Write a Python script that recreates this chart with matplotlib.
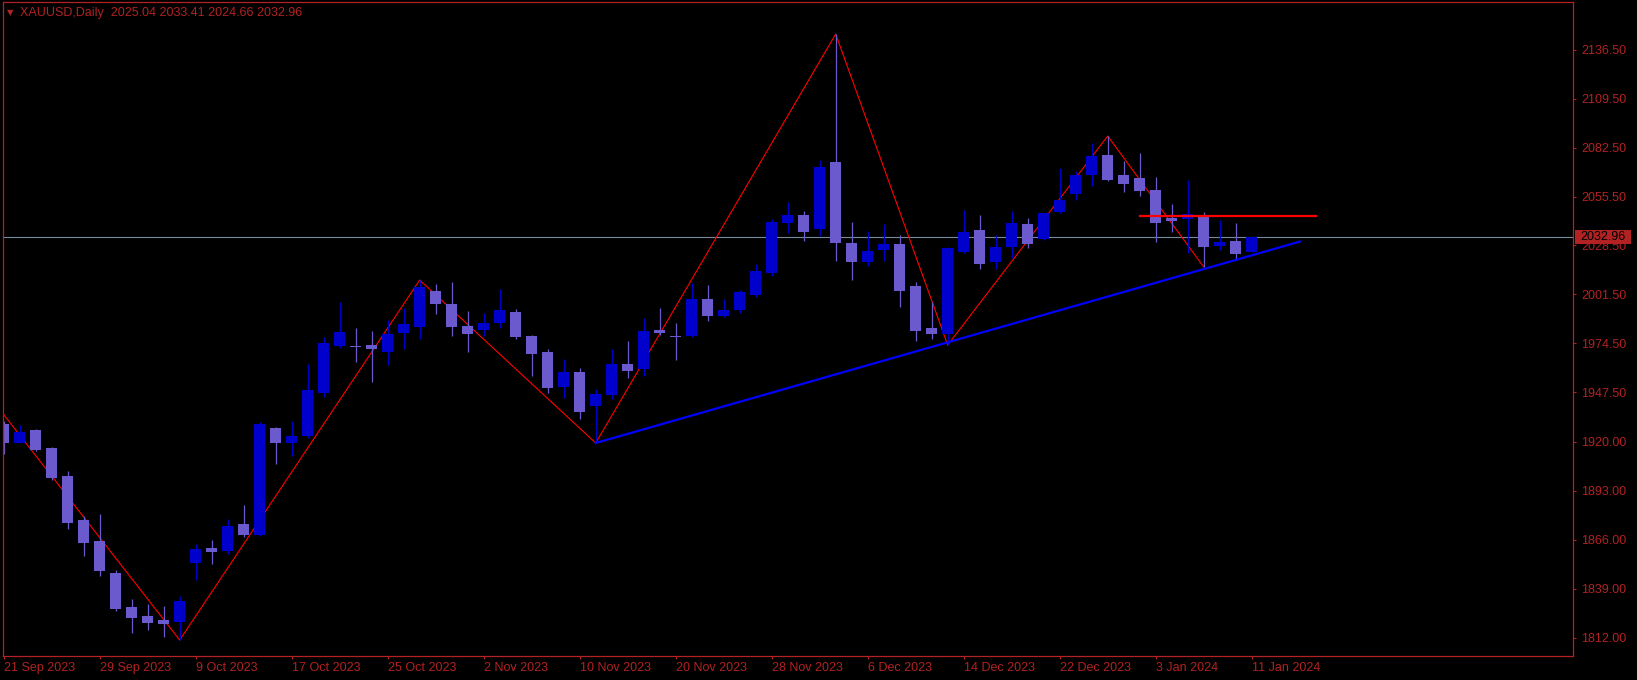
import matplotlib
matplotlib.use("Agg")
import matplotlib.pyplot as plt
import matplotlib.transforms as mtransforms
from matplotlib.patches import Rectangle
import numpy as np

plt.rcParams['font.family'] = ['Liberation Sans', 'DejaVu Sans']

# XAUUSD daily bars, 21 Sep 2023 .. 11 Jan 2024
opens = [1929.9, 1919.4, 1926.6, 1916.6, 1901.2, 1876.9, 1865.3, 1847.6, 1828.8, 1823.9,
         1821.7, 1820.6, 1853.1, 1861.4, 1859.8, 1874.7, 1868.6, 1927.7, 1919.4, 1923.3,
         1947.0, 1973.0, 1973.0, 1973.5, 1969.6, 1980.1, 1983.5, 2003.3, 1996.2, 1984.0,
         1981.8, 1985.7, 1991.7, 1978.5, 1969.6, 1950.3, 1958.6, 1939.8, 1945.9, 1963.0,
         1960.3, 1981.8, 1978.3, 1978.5, 1999.0, 1989.5, 1992.8, 2001.1, 2013.3, 2040.9,
         2045.3, 2037.6, 2074.6, 2029.8, 2019.3, 2026.0, 2029.3, 2006.1, 1982.9, 1979.6,
         2024.9, 2037.0, 2019.3, 2027.6, 2040.3, 2032.0, 2047.0, 2056.9, 2067.4, 2078.4,
         2067.4, 2065.7, 2059.1, 2043.6, 2043.1, 2044.7, 2028.2, 2030.9, 2025.04]
highs = [1931.5, 1929.3, 1927.1, 1917.2, 1904.0, 1879.1, 1880.2, 1849.3, 1833.3, 1830.5,
         1829.4, 1834.9, 1863.6, 1865.8, 1877.4, 1885.2, 1931.0, 1928.0, 1931.6, 1963.0,
         1977.9, 1997.3, 1982.9, 1981.2, 1987.3, 1994.0, 2009.4, 2007.2, 2008.3, 1992.3,
         1991.2, 2004.5, 1993.4, 1979.0, 1971.3, 1965.8, 1960.8, 1949.2, 1971.3, 1975.7,
         1988.4, 1994.0, 1985.7, 2007.8, 2006.7, 1999.0, 2003.9, 2018.2, 2043.1, 2052.5,
         2047.5, 2075.7, 2145.2, 2041.4, 2036.5, 2040.3, 2034.3, 2008.3, 1997.3, 2027.6,
         2048.1, 2045.3, 2034.3, 2047.5, 2043.6, 2046.6, 2071.3, 2069.6, 2085.1, 2088.9,
         2075.1, 2079.5, 2066.3, 2051.4, 2064.6, 2047.0, 2042.5, 2040.9, 2033.41]
lows = [1913.3, 1919.2, 1915.0, 1899.0, 1872.0, 1857.0, 1846.0, 1826.6, 1814.5, 1816.1,
        1812.3, 1810.6, 1843.7, 1852.6, 1858.1, 1867.5, 1868.0, 1907.8, 1912.2, 1922.0,
        1945.0, 1971.9, 1964.1, 1953.1, 1962.5, 1971.3, 1976.8, 1990.6, 1978.5, 1969.6,
        1978.5, 1982.9, 1976.8, 1956.4, 1947.0, 1944.0, 1932.7, 1919.4, 1943.7, 1955.3,
        1956.4, 1979.0, 1965.2, 1977.9, 1986.8, 1989.0, 1991.2, 2000.0, 2011.6, 2035.4,
        2030.9, 2033.7, 2019.9, 2009.4, 2017.1, 2019.9, 1994.5, 1975.7, 1976.8, 1973.5,
        2024.3, 2015.5, 2015.5, 2021.6, 2027.1, 2031.5, 2046.5, 2053.6, 2061.3, 2064.0,
        2058.0, 2055.8, 2030.4, 2035.9, 2024.3, 2016.6, 2026.0, 2020.4, 2024.66]
closes = [1919.6, 1925.5, 1915.5, 1900.1, 1875.2, 1864.2, 1848.7, 1827.7, 1822.8, 1820.0,
          1819.5, 1832.2, 1860.9, 1859.2, 1873.6, 1868.6, 1929.9, 1919.4, 1923.3, 1948.7,
          1974.6, 1980.7, 1972.4, 1971.3, 1979.6, 1985.1, 2005.6, 1996.2, 1983.5, 1979.6,
          1985.7, 1992.8, 1977.9, 1968.5, 1949.8, 1958.6, 1936.5, 1946.5, 1963.0, 1959.2,
          1981.2, 1980.1, 1977.9, 1999.0, 1989.5, 1992.8, 2002.8, 2014.4, 2041.4, 2045.3,
          2035.9, 2071.8, 2029.8, 2019.3, 2025.4, 2029.3, 2003.3, 1981.2, 1979.6, 2027.1,
          2035.9, 2018.2, 2027.6, 2040.9, 2029.3, 2046.4, 2053.6, 2067.4, 2077.9, 2064.6,
          2062.4, 2058.5, 2040.9, 2042.0, 2045.9, 2027.6, 2030.4, 2023.8, 2032.96]

tick_labels = ['21 Sep 2023', '29 Sep 2023', '9 Oct 2023', '17 Oct 2023', '25 Oct 2023',
               '2 Nov 2023', '10 Nov 2023', '20 Nov 2023', '28 Nov 2023', '6 Dec 2023',
               '14 Dec 2023', '22 Dec 2023', '3 Jan 2024', '11 Jan 2024']
price_ticks = [1812.00, 1839.00, 1866.00, 1893.00, 1920.00, 1947.50, 1974.50, 2001.50,
               2028.50, 2055.50, 2082.50, 2109.50, 2136.50]

# zigzag pivots (first one is off the left edge)
zz_idx = [-1, 11, 26, 37, 52, 59, 69, 75]
zz_price = [1946.4, 1810.6, 2009.4, 1919.4, 2145.2, 1973.5, 2088.9, 2016.6]
# support trendline and resistance level
trend_idx = [37, 81]
trend_price = [1919.4, 2030.6]
level_idx = [71, 82]
level_price = 2044.7

FG = '#B22222'
BULL = '#0000CD'
BEAR = '#6A5ACD'

o = np.array(opens)
h = np.array(highs)
l = np.array(lows)
c = np.array(closes)
x = np.arange(len(o))
cols = np.where(c >= o, BULL, BEAR)

fig = plt.figure(figsize=(16.37, 6.8), dpi=100, facecolor='black')
ax = fig.add_axes([2.5 / 1637, 24 / 680, 1570.5 / 1637, 654 / 680])
ax.set_facecolor('black')

ax.axhline(c[-1], color='#778899', lw=0.8, zorder=1)
ax.plot(zz_idx, zz_price, color='#FF0000', lw=0.8, zorder=1.5)

ax.vlines(x, l, h, colors=cols, lw=0.9, zorder=2)
ax.bar(x, np.maximum(np.abs(c - o), 0.6), bottom=np.minimum(o, c), width=0.69,
       color=cols, linewidth=0, zorder=2.2)

ax.plot(trend_idx, trend_price, color='#0000FF', lw=1.6, zorder=3)
ax.plot(level_idx, [level_price, level_price], color='#FF0000', lw=1.6, zorder=3)

ax.set_xlim(-0.075, 98.08)
ax.set_ylim(1801.8, 2162.9)

for s in ax.spines.values():
    s.set_color(FG)
    s.set_linewidth(0.9)

ax.yaxis.tick_right()
ax.set_yticks(price_ticks)
ax.set_yticklabels([f"{p:.2f}" for p in price_ticks])
ax.set_xticks(x[::6])
ax.set_xticklabels(tick_labels, ha='left')
ax.tick_params(axis='y', colors=FG, labelcolor=FG, length=2.5, width=0.8, pad=3.5, labelsize=9)
ax.tick_params(axis='x', colors=FG, labelcolor=FG, length=2.5, width=0.8, pad=1.5, labelsize=9)

# current price tag on the right scale
tr = mtransforms.blended_transform_factory(ax.transAxes, ax.transData)
ax.add_patch(Rectangle((1.0015, c[-1] - 3.9), 0.0357, 7.7, transform=tr,
                       facecolor=FG, edgecolor='none', clip_on=False, zorder=5))
ax.text(1.0046, c[-1], f"{c[-1]:.2f}", transform=tr, color='black', fontsize=9,
        ha='left', va='center', clip_on=False, zorder=6)

fig.text(7 / 1637, 1 - 12.5 / 680, '▼', color=FG, fontsize=6, va='center',
         family='DejaVu Sans')
fig.text(20.5 / 1637, 1 - 12.7 / 680,
         f"XAUUSD,Daily  {opens[-1]:.2f} {highs[-1]:.2f} {lows[-1]:.2f} {closes[-1]:.2f}",
         color=FG, fontsize=9, va='center')

fig.savefig('out.png', dpi=100, facecolor='black')
